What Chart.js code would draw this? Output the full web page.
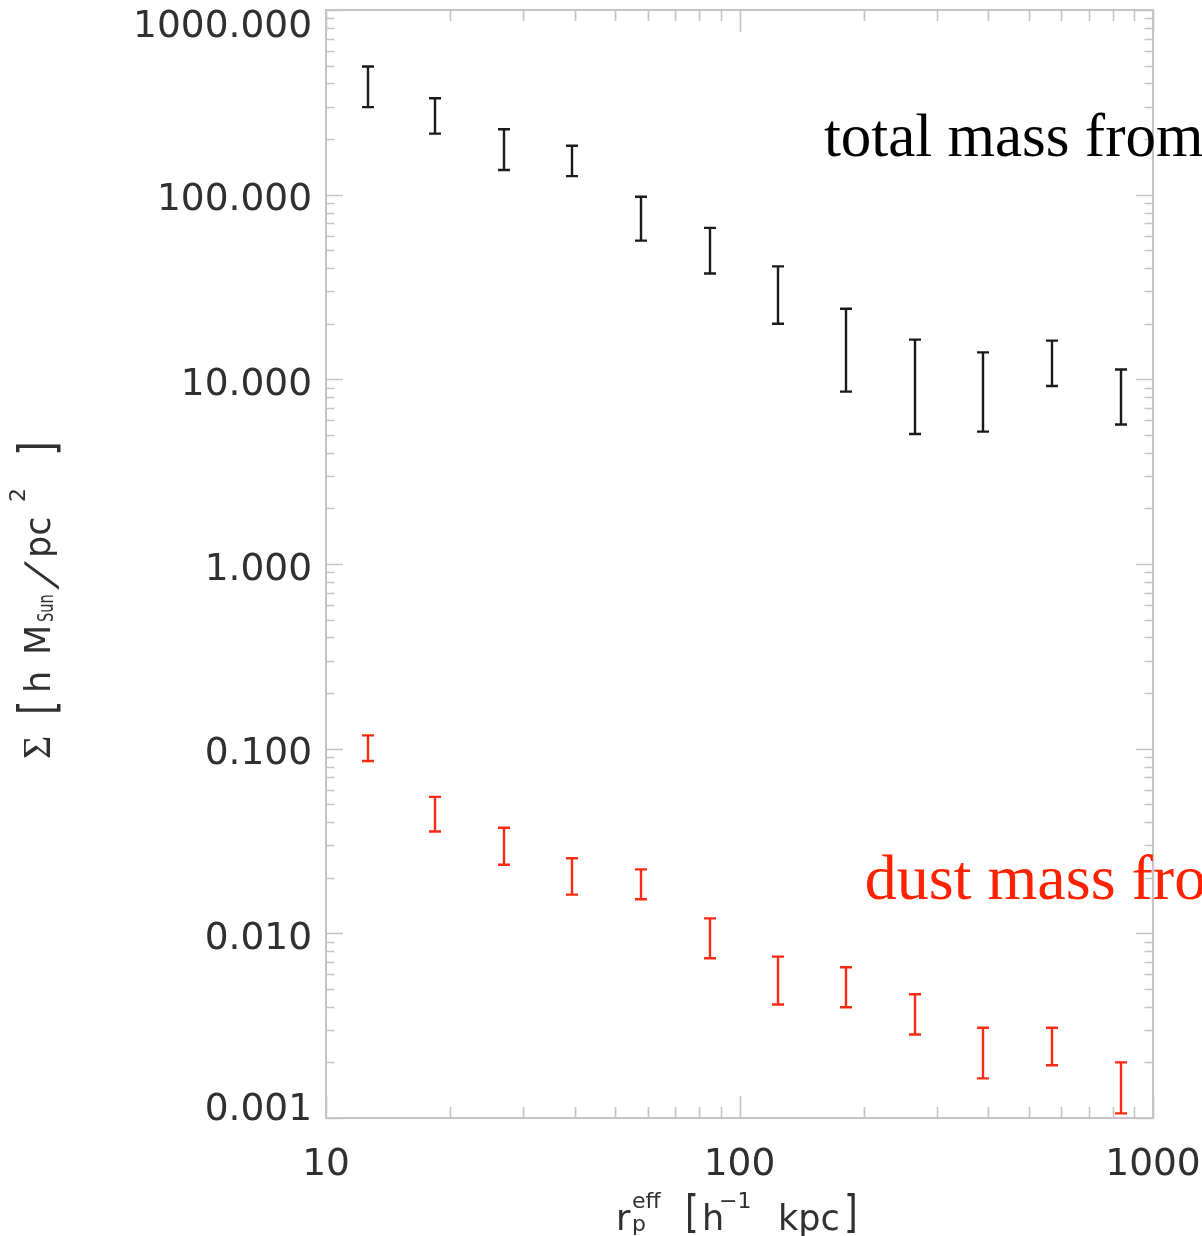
<!DOCTYPE html>
<html>
<head>
<meta charset="utf-8">
<script src="https://cdn.jsdelivr.net/npm/chart.js@4.4.1/dist/chart.umd.min.js"></script>
<style>
  html, body { margin: 0; padding: 0; background: #fff; }
  #wrap { width: 1202px; height: 1236px; }
</style>
</head>
<body>
<div id="wrap"><canvas id="c" width="1202" height="1236"></canvas></div>
<script>
// Projected effective radius of each bin [h^-1 kpc]
const radius = [12.6, 18.3, 27.0, 39.4, 57.7, 84.7, 124, 181, 266, 389, 571, 837];

// Total surface mass density, lower / upper error bar ends
const totalLow  = [298, 214, 136, 126, 56.4, 37.4, 20.0, 8.58, 5.06, 5.21, 9.20, 5.69];
const totalHigh = [494, 333, 226, 184, 97.5, 66.1, 40.9, 24.1, 16.4, 14.0, 16.2, 11.3];

// Dust surface mass density, lower / upper error bar ends
const dustLow  = [0.0858, 0.0356, 0.0235, 0.0162, 0.0153, 0.00733, 0.00412, 0.00398, 0.00283, 0.00164, 0.00193, 0.00106];
const dustHigh = [0.118, 0.0548, 0.0373, 0.0255, 0.0222, 0.01205, 0.00748, 0.00655, 0.00468, 0.00308, 0.00308, 0.00200];

// Axis tick labels
const xTickLabels = ['10', '100', '1000'];
const yTickLabels = ['0.001', '0.010', '0.100', '1.000', '10.000', '100.000', '1000.000'];

// In-plot captions (anchored in data coordinates)
const captions = [
  { text: 'total mass from', x: 160, y: 162, color: '#000000', size: 61 },
  { text: 'dust mass from', x: 201, y: 0.0153, color: '#ff2200', size: 64 }
];

const AXIS_GRAY = '#c4c4c4';
const TICK_FONT = '37.5px "DejaVu Sans"';
const TICK_COLOR = '#303030';

function barData(lo, hi) {
  return radius.map((r, i) => ({ x: r, y: Math.sqrt(lo[i] * hi[i]), yMin: lo[i], yMax: hi[i] }));
}

function minorValues(majors) {
  const out = [];
  for (let k = 0; k < majors.length - 1; k++) {
    for (let m = 2; m <= 9; m++) out.push(majors[k] * m);
  }
  return out;
}

// Box frame with inward ticks on all four sides, plus tick labels
const frameTicks = {
  id: 'frameTicks',
  beforeDatasetsDraw(chart) {
    const { ctx, chartArea: a, scales: { x, y } } = chart;
    const xMaj = xTickLabels.map(Number);
    const yMaj = yTickLabels.map(Number);
    ctx.save();
    ctx.strokeStyle = AXIS_GRAY;
    ctx.lineWidth = 2;
    ctx.strokeRect(a.left, a.top, a.right - a.left, a.bottom - a.top);
    ctx.lineWidth = 1.6;
    ctx.beginPath();
    const xt = (v, len) => {
      const px = Math.round(x.getPixelForValue(v)) + 0.5;
      ctx.moveTo(px, a.bottom); ctx.lineTo(px, a.bottom - len);
      ctx.moveTo(px, a.top); ctx.lineTo(px, a.top + len);
    };
    const yt = (v, len) => {
      const py = Math.round(y.getPixelForValue(v)) + 0.5;
      ctx.moveTo(a.left, py); ctx.lineTo(a.left + len, py);
      ctx.moveTo(a.right, py); ctx.lineTo(a.right - len, py);
    };
    xMaj.forEach(v => xt(v, 22));
    minorValues(xMaj).forEach(v => xt(v, 11));
    yMaj.forEach(v => yt(v, 17));
    minorValues(yMaj).forEach(v => yt(v, 8.5));
    ctx.stroke();

    ctx.fillStyle = TICK_COLOR;
    ctx.font = TICK_FONT;
    ctx.textBaseline = 'alphabetic';
    ctx.textAlign = 'center';
    xTickLabels.forEach(t => {
      ctx.fillText(t, x.getPixelForValue(Number(t)), a.bottom + 57);
    });
    ctx.textAlign = 'right';
    yTickLabels.forEach(t => {
      let cy = y.getPixelForValue(Number(t)) + 2;
      cy = Math.min(Math.max(cy, a.top + 13), a.bottom - 12);
      ctx.fillText(t, a.left - 14, cy + 13.5);
    });
    ctx.restore();
  }
};

// Vertical error bars with end caps
const errorBars = {
  id: 'errorBars',
  afterDatasetsDraw(chart) {
    const { ctx, scales: { x, y } } = chart;
    chart.data.datasets.forEach(ds => {
      ctx.save();
      ctx.strokeStyle = ds.borderColor;
      ctx.lineWidth = 2.4;
      ctx.lineCap = 'butt';
      ds.data.forEach(p => {
        const px = Math.round(x.getPixelForValue(p.x));
        const top = y.getPixelForValue(p.yMax);
        const bot = y.getPixelForValue(p.yMin);
        ctx.beginPath();
        ctx.moveTo(px, top); ctx.lineTo(px, bot);
        ctx.moveTo(px - 6, top); ctx.lineTo(px + 6, top);
        ctx.moveTo(px - 6, bot); ctx.lineTo(px + 6, bot);
        ctx.stroke();
      });
      ctx.restore();
    });
  }
};

// Text pieces laid out along the baseline: offset `at`, size, baseline shift `dy`,
// optional horizontal squeeze `sx`, lean `skew` and font family
function placeText(ctx, pieces) {
  pieces.forEach(p => {
    ctx.save();
    ctx.font = p.size + 'px ' + (p.family || '"DejaVu Sans"');
    ctx.translate(p.at, p.dy || 0);
    if (p.sx) ctx.scale(p.sx, 1);
    if (p.skew) ctx.transform(1, 0, -p.skew, 1, 0, 0);
    ctx.fillText(p.t, 0, 0);
    ctx.restore();
  });
}

const axisTitles = {
  id: 'axisTitles',
  afterDraw(chart) {
    const { ctx } = chart;
    ctx.save();
    ctx.fillStyle = TICK_COLOR;
    ctx.textAlign = 'left';
    ctx.textBaseline = 'alphabetic';

    // x title: r_p^eff [h^-1 kpc]
    ctx.save();
    ctx.translate(618, 1230);
    placeText(ctx, [
      { t: 'r', at: -2, size: 35 },
      { t: 'eff', at: 14, size: 22, dy: -22 },
      { t: 'p', at: 14, size: 22, dy: 1 },
      { t: '[', at: 67, size: 44, sx: 0.8, dy: -3 },
      { t: 'h', at: 84, size: 35 },
      { t: '\u22121', at: 101, size: 22, dy: -22 },
      { t: 'kpc', at: 160, size: 35 },
      { t: ']', at: 226, size: 44, sx: 0.8, dy: -3 }
    ]);
    ctx.restore();

    // y title: Σ [h M_Sun/pc^2]
    ctx.save();
    ctx.translate(50, 759);
    ctx.rotate(-Math.PI / 2);
    placeText(ctx, [
      { t: '\u03A3', at: 0, size: 40, family: '"Liberation Serif"' },
      { t: '[', at: 44, size: 50, sx: 0.75, dy: 4 },
      { t: 'h', at: 66, size: 35 },
      { t: 'M', at: 104, size: 35 },
      { t: 'Sun', at: 137, size: 22, sx: 0.66, dy: 3 },
      { t: '/', at: 171, size: 42, skew: 0.42, dy: 5 },
      { t: 'pc', at: 201, size: 35 },
      { t: '2', at: 257, size: 22, dy: -25 },
      { t: ']', at: 303, size: 50, sx: 0.75, dy: 4 }
    ]);
    ctx.restore();
    ctx.restore();

    // captions
    const { x, y } = chart.scales;
    ctx.save();
    ctx.textAlign = 'left';
    ctx.textBaseline = 'alphabetic';
    captions.forEach(c => {
      ctx.font = c.size + 'px "Liberation Serif"';
      ctx.fillStyle = c.color;
      ctx.fillText(c.text, x.getPixelForValue(c.x), y.getPixelForValue(c.y));
    });
    ctx.restore();
  }
};

new Chart(document.getElementById('c'), {
  type: 'scatter',
  data: {
    datasets: [
      { label: 'total', data: barData(totalLow, totalHigh), borderColor: '#1a1a1a', backgroundColor: '#1a1a1a', pointRadius: 0, showLine: false },
      { label: 'dust', data: barData(dustLow, dustHigh), borderColor: '#ff2a14', backgroundColor: '#ff2a14', pointRadius: 0, showLine: false }
    ]
  },
  options: {
    responsive: false,
    animation: false,
    devicePixelRatio: 1,
    layout: { padding: { left: 326, top: 10, right: 49, bottom: 118 } },
    plugins: { legend: { display: false }, tooltip: { enabled: false } },
    scales: {
      x: { type: 'logarithmic', min: 10, max: 1000, display: false },
      y: { type: 'logarithmic', min: 0.001, max: 1000, display: false }
    }
  },
  plugins: [frameTicks, errorBars, axisTitles]
});
</script>
</body>
</html>
